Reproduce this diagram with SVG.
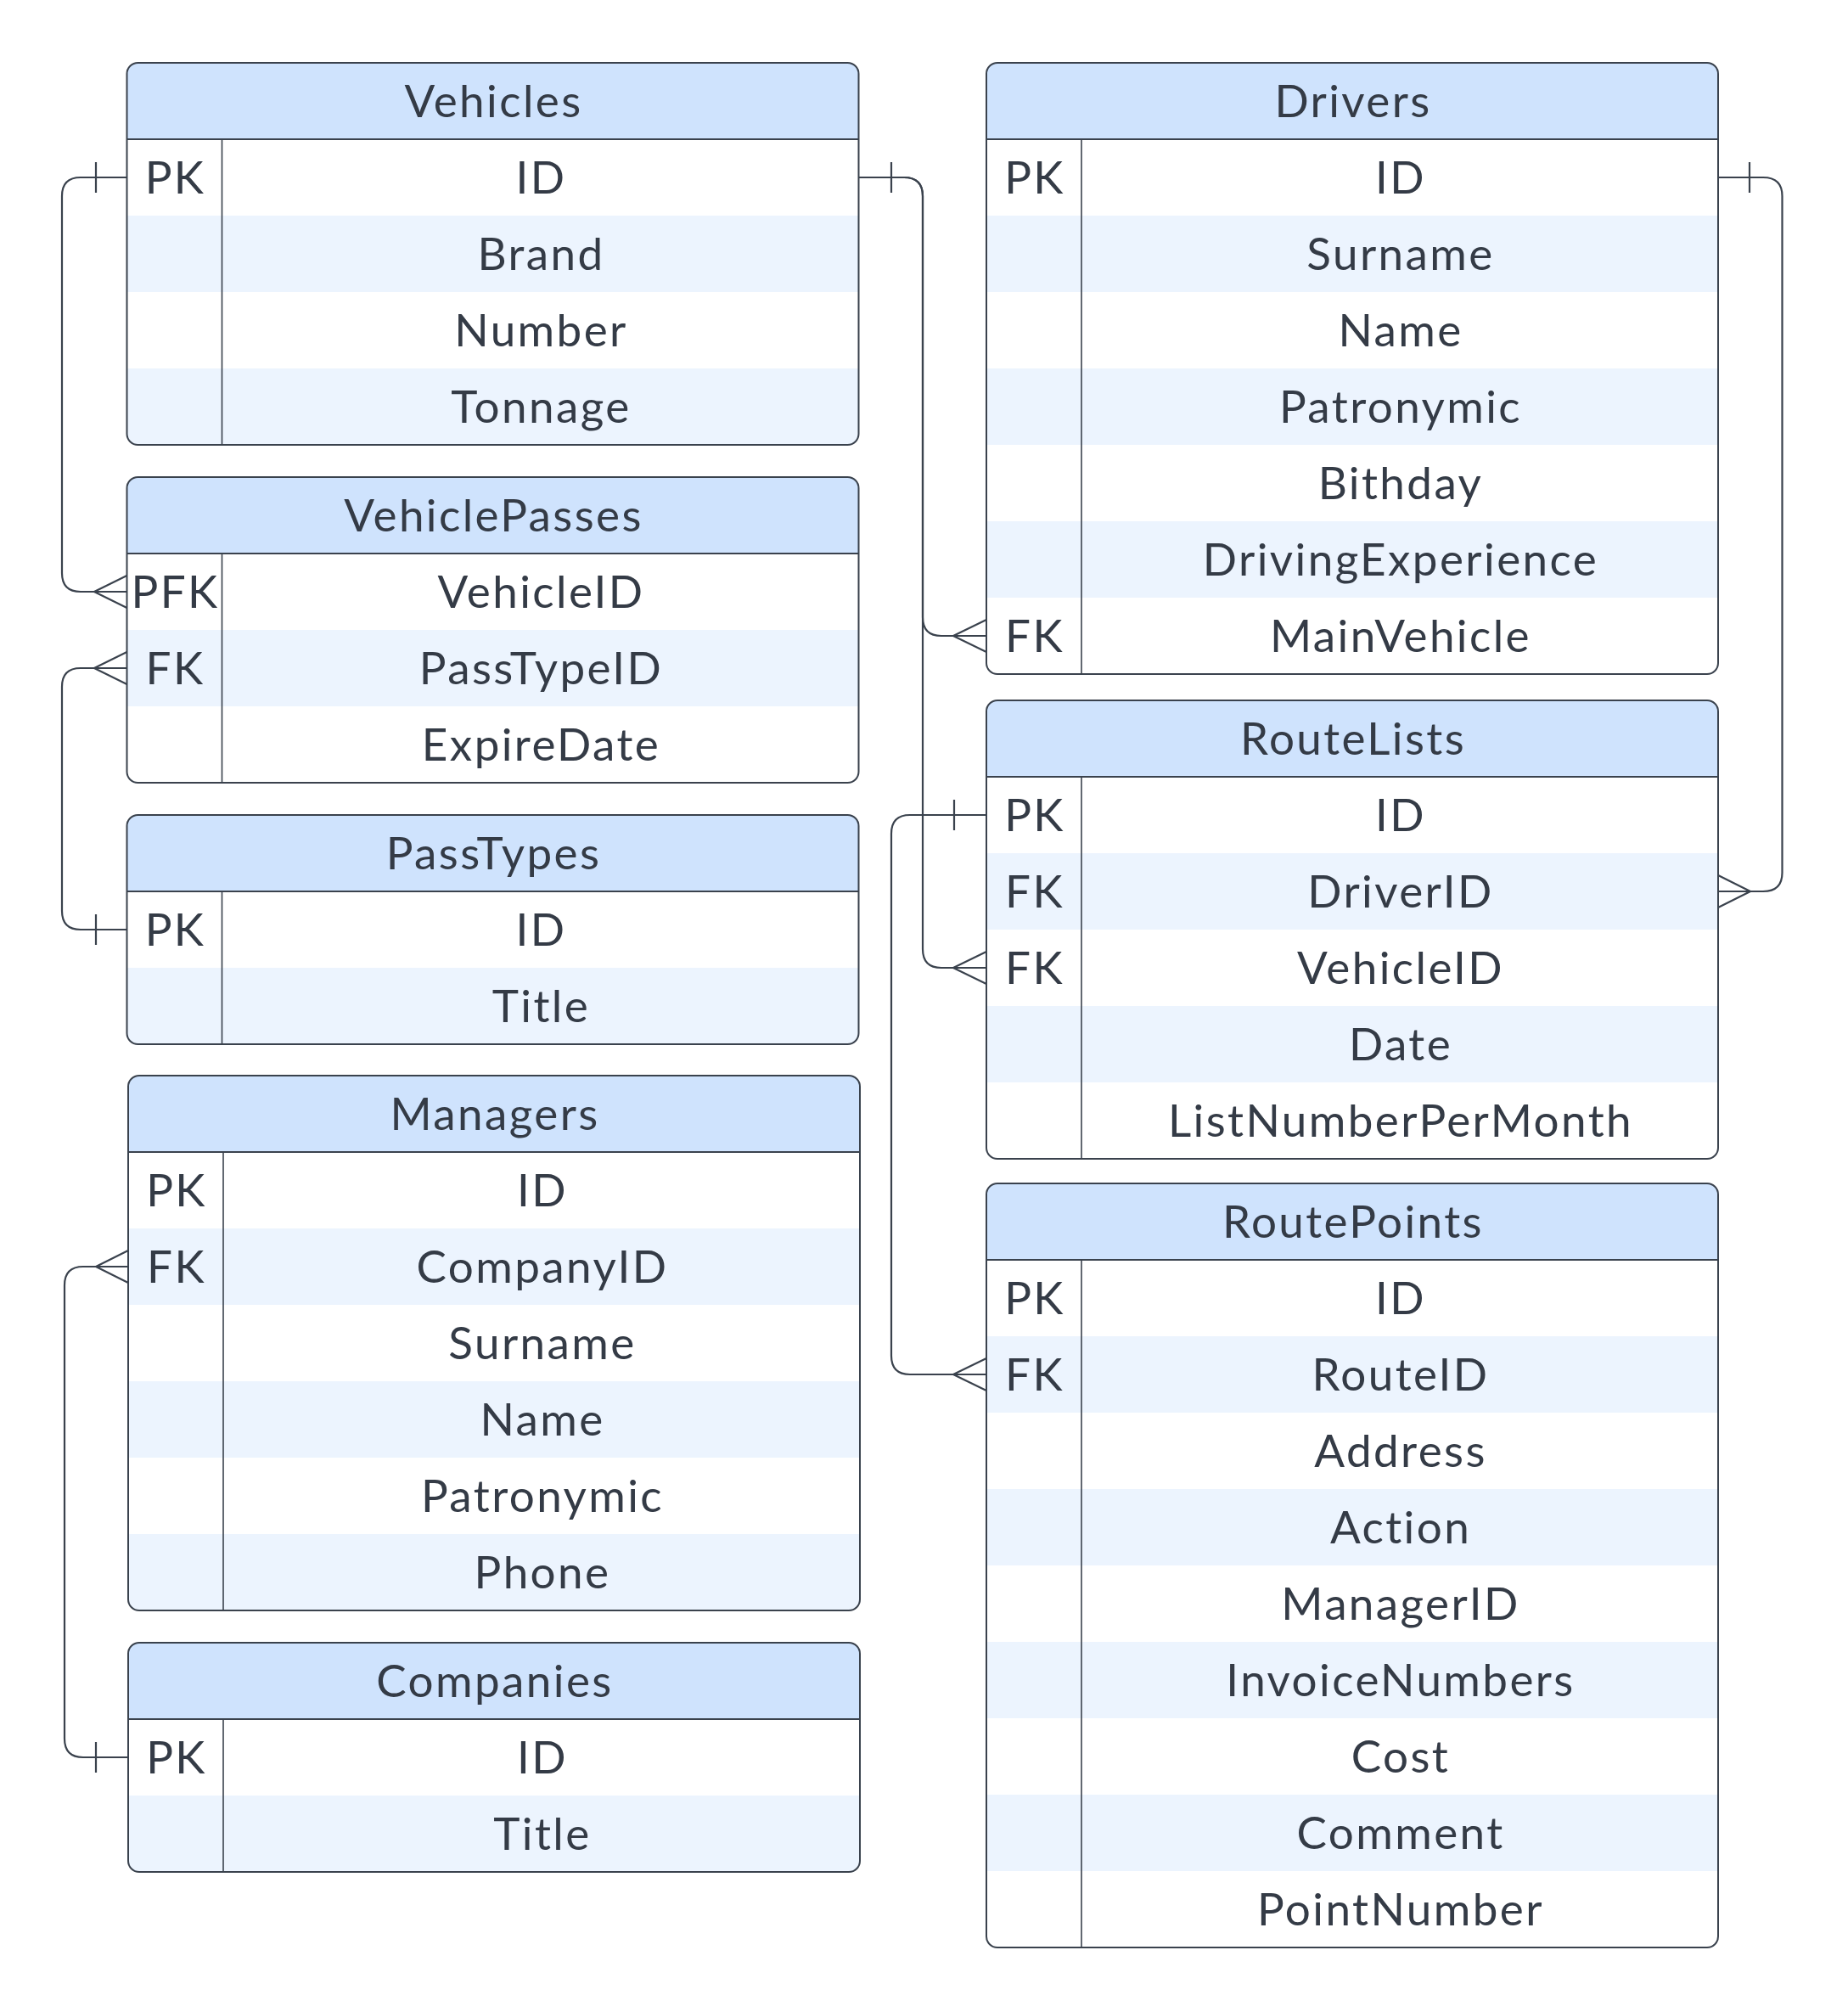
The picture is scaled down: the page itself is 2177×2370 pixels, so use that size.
<svg xmlns="http://www.w3.org/2000/svg" width="2177" height="2370" viewBox="0 0 2177 2370">
<style>
.bg{fill:#ffffff}
.hdr{fill:#cfe3fd}
.band{fill:#ecf4fe}
.frame{fill:none;stroke:#3a424d;stroke-width:2}
.sep{stroke:#3a424d;stroke-width:2}
.div{stroke:#3a424d;stroke-width:1.6}
.t{font-family:Lato,"Liberation Sans",sans-serif;font-size:53px;letter-spacing:2.4px;fill:#343b46;text-anchor:middle}
.conn{fill:none;stroke:#3a424d;stroke-width:2.2;stroke-linejoin:round}
</style>
<defs>
<clipPath id="c-vehicles"><rect x="149.5" y="74" width="862" height="450" rx="13"/></clipPath>
<clipPath id="c-vehiclepasses"><rect x="149.5" y="562" width="862" height="360" rx="13"/></clipPath>
<clipPath id="c-passtypes"><rect x="149.5" y="960" width="862" height="270" rx="13"/></clipPath>
<clipPath id="c-managers"><rect x="151" y="1267" width="862" height="630" rx="13"/></clipPath>
<clipPath id="c-companies"><rect x="151" y="1935" width="862" height="270" rx="13"/></clipPath>
<clipPath id="c-drivers"><rect x="1162" y="74" width="862" height="720" rx="13"/></clipPath>
<clipPath id="c-routelists"><rect x="1162" y="825" width="862" height="540" rx="13"/></clipPath>
<clipPath id="c-routepoints"><rect x="1162" y="1394" width="862" height="900" rx="13"/></clipPath>
</defs>
<rect width="2177" height="2370" fill="#ffffff"/>

<g id="vehicles">
<g clip-path="url(#c-vehicles)">
<rect class="bg" x="149.5" y="74" width="862" height="450"/>
<rect class="hdr" x="149.5" y="74" width="862" height="90"/>
<rect class="band" x="149.5" y="254" width="862" height="90"/>
<rect class="band" x="149.5" y="434" width="862" height="90"/>
</g>
<rect class="frame" x="149.5" y="74" width="862" height="450" rx="13"/>
<line class="sep" x1="149.5" y1="164" x2="1011.5" y2="164"/>
<line class="div" x1="261.5" y1="164" x2="261.5" y2="524"/>
<text class="t" x="581.5" y="138">Vehicles</text>
<text class="t" x="206.5" y="228">PK</text><text class="t" x="637.5" y="228">ID</text>
<text class="t" x="637.5" y="318">Brand</text>
<text class="t" x="637.5" y="408">Number</text>
<text class="t" x="637.5" y="498">Tonnage</text>
</g>

<g id="vehiclepasses">
<g clip-path="url(#c-vehiclepasses)">
<rect class="bg" x="149.5" y="562" width="862" height="360"/>
<rect class="hdr" x="149.5" y="562" width="862" height="90"/>
<rect class="band" x="149.5" y="742" width="862" height="90"/>
</g>
<rect class="frame" x="149.5" y="562" width="862" height="360" rx="13"/>
<line class="sep" x1="149.5" y1="652" x2="1011.5" y2="652"/>
<line class="div" x1="261.5" y1="652" x2="261.5" y2="922"/>
<text class="t" x="581.5" y="626">VehiclePasses</text>
<text class="t" x="206.5" y="716">PFK</text><text class="t" x="637.5" y="716">VehicleID</text>
<text class="t" x="206.5" y="806">FK</text><text class="t" x="637.5" y="806">PassTypeID</text>
<text class="t" x="637.5" y="896">ExpireDate</text>
</g>

<g id="passtypes">
<g clip-path="url(#c-passtypes)">
<rect class="bg" x="149.5" y="960" width="862" height="270"/>
<rect class="hdr" x="149.5" y="960" width="862" height="90"/>
<rect class="band" x="149.5" y="1140" width="862" height="90"/>
</g>
<rect class="frame" x="149.5" y="960" width="862" height="270" rx="13"/>
<line class="sep" x1="149.5" y1="1050" x2="1011.5" y2="1050"/>
<line class="div" x1="261.5" y1="1050" x2="261.5" y2="1230"/>
<text class="t" x="581.5" y="1024">PassTypes</text>
<text class="t" x="206.5" y="1114">PK</text><text class="t" x="637.5" y="1114">ID</text>
<text class="t" x="637.5" y="1204">Title</text>
</g>

<g id="managers">
<g clip-path="url(#c-managers)">
<rect class="bg" x="151" y="1267" width="862" height="630"/>
<rect class="hdr" x="151" y="1267" width="862" height="90"/>
<rect class="band" x="151" y="1447" width="862" height="90"/>
<rect class="band" x="151" y="1627" width="862" height="90"/>
<rect class="band" x="151" y="1807" width="862" height="90"/>
</g>
<rect class="frame" x="151" y="1267" width="862" height="630" rx="13"/>
<line class="sep" x1="151" y1="1357" x2="1013" y2="1357"/>
<line class="div" x1="263" y1="1357" x2="263" y2="1897"/>
<text class="t" x="583" y="1331">Managers</text>
<text class="t" x="208" y="1421">PK</text><text class="t" x="639" y="1421">ID</text>
<text class="t" x="208" y="1511">FK</text><text class="t" x="639" y="1511">CompanyID</text>
<text class="t" x="639" y="1601">Surname</text>
<text class="t" x="639" y="1691">Name</text>
<text class="t" x="639" y="1781">Patronymic</text>
<text class="t" x="639" y="1871">Phone</text>
</g>

<g id="companies">
<g clip-path="url(#c-companies)">
<rect class="bg" x="151" y="1935" width="862" height="270"/>
<rect class="hdr" x="151" y="1935" width="862" height="90"/>
<rect class="band" x="151" y="2115" width="862" height="90"/>
</g>
<rect class="frame" x="151" y="1935" width="862" height="270" rx="13"/>
<line class="sep" x1="151" y1="2025" x2="1013" y2="2025"/>
<line class="div" x1="263" y1="2025" x2="263" y2="2205"/>
<text class="t" x="583" y="1999">Companies</text>
<text class="t" x="208" y="2089">PK</text><text class="t" x="639" y="2089">ID</text>
<text class="t" x="639" y="2179">Title</text>
</g>

<g id="drivers">
<g clip-path="url(#c-drivers)">
<rect class="bg" x="1162" y="74" width="862" height="720"/>
<rect class="hdr" x="1162" y="74" width="862" height="90"/>
<rect class="band" x="1162" y="254" width="862" height="90"/>
<rect class="band" x="1162" y="434" width="862" height="90"/>
<rect class="band" x="1162" y="614" width="862" height="90"/>
</g>
<rect class="frame" x="1162" y="74" width="862" height="720" rx="13"/>
<line class="sep" x1="1162" y1="164" x2="2024" y2="164"/>
<line class="div" x1="1274" y1="164" x2="1274" y2="794"/>
<text class="t" x="1594" y="138">Drivers</text>
<text class="t" x="1219" y="228">PK</text><text class="t" x="1650" y="228">ID</text>
<text class="t" x="1650" y="318">Surname</text>
<text class="t" x="1650" y="408">Name</text>
<text class="t" x="1650" y="498">Patronymic</text>
<text class="t" x="1650" y="588">Bithday</text>
<text class="t" x="1650" y="678">DrivingExperience</text>
<text class="t" x="1219" y="768">FK</text><text class="t" x="1650" y="768">MainVehicle</text>
</g>

<g id="routelists">
<g clip-path="url(#c-routelists)">
<rect class="bg" x="1162" y="825" width="862" height="540"/>
<rect class="hdr" x="1162" y="825" width="862" height="90"/>
<rect class="band" x="1162" y="1005" width="862" height="90"/>
<rect class="band" x="1162" y="1185" width="862" height="90"/>
</g>
<rect class="frame" x="1162" y="825" width="862" height="540" rx="13"/>
<line class="sep" x1="1162" y1="915" x2="2024" y2="915"/>
<line class="div" x1="1274" y1="915" x2="1274" y2="1365"/>
<text class="t" x="1594" y="889">RouteLists</text>
<text class="t" x="1219" y="979">PK</text><text class="t" x="1650" y="979">ID</text>
<text class="t" x="1219" y="1069">FK</text><text class="t" x="1650" y="1069">DriverID</text>
<text class="t" x="1219" y="1159">FK</text><text class="t" x="1650" y="1159">VehicleID</text>
<text class="t" x="1650" y="1249">Date</text>
<text class="t" x="1650" y="1339">ListNumberPerMonth</text>
</g>

<g id="routepoints">
<g clip-path="url(#c-routepoints)">
<rect class="bg" x="1162" y="1394" width="862" height="900"/>
<rect class="hdr" x="1162" y="1394" width="862" height="90"/>
<rect class="band" x="1162" y="1574" width="862" height="90"/>
<rect class="band" x="1162" y="1754" width="862" height="90"/>
<rect class="band" x="1162" y="1934" width="862" height="90"/>
<rect class="band" x="1162" y="2114" width="862" height="90"/>
</g>
<rect class="frame" x="1162" y="1394" width="862" height="900" rx="13"/>
<line class="sep" x1="1162" y1="1484" x2="2024" y2="1484"/>
<line class="div" x1="1274" y1="1484" x2="1274" y2="2294"/>
<text class="t" x="1594" y="1458">RoutePoints</text>
<text class="t" x="1219" y="1548">PK</text><text class="t" x="1650" y="1548">ID</text>
<text class="t" x="1219" y="1638">FK</text><text class="t" x="1650" y="1638">RouteID</text>
<text class="t" x="1650" y="1728">Address</text>
<text class="t" x="1650" y="1818">Action</text>
<text class="t" x="1650" y="1908">ManagerID</text>
<text class="t" x="1650" y="1998">InvoiceNumbers</text>
<text class="t" x="1650" y="2088">Cost</text>
<text class="t" x="1650" y="2178">Comment</text>
<text class="t" x="1650" y="2268">PointNumber</text>
</g>

<g id="connectors">
<path class="conn" d="M149.5,209 H95 Q73,209 73,231 V675 Q73,697 95,697 H149.5"/>
<path class="conn" d="M113,191 V227 M149.5,678 L111,697 L149.5,716"/>
<path class="conn" d="M149.5,1095 H95 Q73,1095 73,1073 V809 Q73,787 95,787 H149.5"/>
<path class="conn" d="M113,1077 V1113 M149.5,768 L111,787 L149.5,806"/>
<path class="conn" d="M1011.5,209 H1065 Q1087,209 1087,231 V727 Q1087,749 1109,749 H1162"/>
<path class="conn" d="M1050,191 V227 M1162,730 L1123,749 L1162,768"/>
<path class="conn" d="M1011.5,209 H1065 Q1087,209 1087,231 V1118 Q1087,1140 1109,1140 H1162"/>
<path class="conn" d="M1162,1121 L1123,1140 L1162,1159"/>
<path class="conn" d="M2024,209 H2077 Q2099.5,209 2099.5,231 V1028 Q2099.5,1050 2077,1050 H2024"/>
<path class="conn" d="M2061,191 V227 M2024,1031 L2062,1050 L2024,1069"/>
<path class="conn" d="M1162,960 H1072 Q1050,960 1050,982 V1597 Q1050,1619 1072,1619 H1162"/>
<path class="conn" d="M1124,942 V978 M1162,1600 L1123,1619 L1162,1638"/>
<path class="conn" d="M151,2070 H98 Q76,2070 76,2048 V1514 Q76,1492 98,1492 H151"/>
<path class="conn" d="M113,2052 V2088 M151,1473 L113,1492 L151,1511"/>
</g>
</svg>
